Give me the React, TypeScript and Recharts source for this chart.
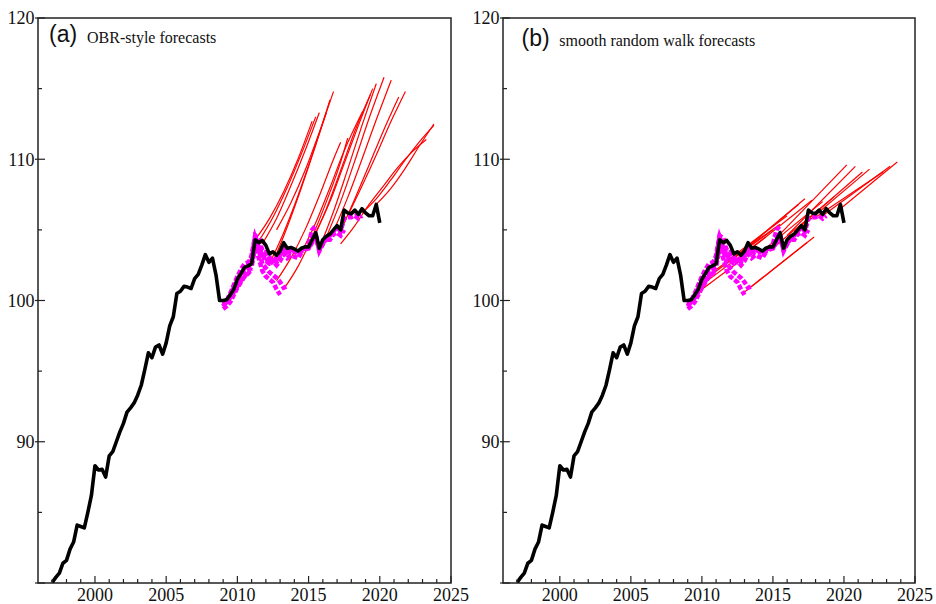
import React from 'react';
import { LineChart, Line, XAxis, YAxis, ReferenceArea } from 'recharts';

// ---------- data ----------
const ACTUAL_START = 1997; // quarterly observations
const actualValues = [
  80.05, 80.4, 80.7, 81.4,
  81.6, 82.4, 82.9, 84.1,
  84.0, 83.9, 85.0, 86.2,
  88.3, 88.0, 88.05, 87.5,
  89.0, 89.3, 90.0, 90.7,
  91.3, 92.1, 92.4, 92.75,
  93.3, 94.0, 95.1, 96.3,
  95.95, 96.7, 96.85, 96.2,
  97.0, 98.2, 98.85, 100.5,
  100.65, 101.0, 100.95, 100.85,
  101.55, 101.85, 102.5, 103.25,
  102.7, 103.0, 101.8, 100.0,
  100.0, 100.05, 100.4, 100.8,
  101.5, 101.9, 102.35, 102.45,
  102.6, 104.3, 104.1, 104.25,
  103.9, 103.3, 103.45, 103.2,
  103.5, 104.1, 103.7, 103.75,
  103.65, 103.5, 103.7, 103.8,
  103.8, 104.3, 104.8, 103.7,
  104.3, 104.55, 104.7, 105.0,
  105.3, 105.0, 106.4, 106.2,
  106.15, 106.4, 106.1, 106.5,
  106.2, 106.0, 106.0, 106.8,
  105.5,
];

// data vintages (quarterly, start year + values)
const vintageStarts = [2009.0, 2009.0, 2009.0, 2009.0, 2009.0, 2010.0, 2011.0, 2012.0, 2013.0, 2014.5];
const vintageValues = [
  [99.4, 99.6, 99.9, 100.4, 100.9, 101.3, 101.7, 101.9, 102.2],
  [99.6, 99.9, 100.4, 101.0, 101.6, 102.0, 102.3, 102.5, 103.2, 104.6, 104.4, 104.0],
  [99.6, 100.0, 100.5, 101.1, 101.7, 102.2, 102.6, 102.7, 103.0, 104.5, 103.8, 103.2, 102.8, 102.6, 102.7],
  [99.7, 99.9, 100.2, 100.6, 101.0, 101.4, 101.7, 102.0, 102.4, 103.8, 103.0, 102.1, 101.7, 101.5, 101.3, 100.8, 100.4],
  [99.8, 100.0, 100.4, 100.9, 101.4, 101.8, 102.1, 102.3, 102.7, 104.2, 103.6, 102.6, 102.3, 102.0, 101.8, 101.6, 101.3, 100.9, 101.0],
  [101.5, 101.9, 102.2, 102.4, 102.6, 104.4, 104.0, 103.3, 103.0, 102.6, 102.8, 102.5, 102.8, 103.3, 103.0, 103.2, 103.1, 103.0, 103.4],
  [102.8, 104.5, 104.2, 103.6, 103.3, 102.9, 102.9, 102.7, 103.2, 103.6, 103.4, 103.5, 103.5, 103.3, 103.5, 103.7, 104.0, 105.0, 105.3],
  [103.6, 103.0, 103.1, 102.9, 103.3, 103.8, 103.5, 103.6, 103.5, 103.4, 103.6, 103.7, 103.8, 104.4, 104.5, 103.6, 104.0, 104.6, 104.5],
  [103.4, 103.9, 103.5, 103.6, 103.5, 103.3, 103.5, 103.6, 103.7, 104.1, 104.7, 103.6, 104.1, 104.3, 104.3, 104.7, 104.8, 104.6, 105.0],
  [103.6, 103.7, 103.7, 104.2, 104.6, 103.5, 104.0, 104.4, 104.6, 104.9, 105.2, 104.9, 105.8, 105.9, 105.9, 106.0, 105.8, 106.0],
];

// OBR-style forecast paths [year, value]
const obrForecasts: [number, number][][] = [
  [[2011.25, 104.3], [2012.25, 105.8], [2013.25, 107.7], [2014.25, 110.0], [2015.25, 112.7]],
  [[2011.5, 104.2], [2012.5, 105.9], [2013.5, 108.0], [2014.5, 110.4], [2015.5, 113.0]],
  [[2011.75, 104.0], [2012.75, 105.8], [2013.75, 108.1], [2014.75, 110.6], [2015.75, 113.3]],
  [[2012.25, 102.6], [2013.25, 104.8], [2014.25, 107.4], [2015.25, 110.3], [2016.25, 113.3]],
  [[2012.5, 102.7], [2013.5, 105.2], [2014.5, 108.0], [2015.5, 111.0], [2016.5, 114.2]],
  [[2012.75, 105.0], [2013.75, 106.9], [2014.75, 109.2], [2015.75, 111.9], [2016.75, 114.8]],
  [[2012.75, 101.4], [2013.75, 103.0], [2014.75, 105.0], [2015.75, 107.4], [2016.75, 110.0], [2017.25, 111.2]],
  [[2013.25, 100.8], [2014.25, 102.4], [2015.25, 104.5], [2016.25, 107.0], [2017.25, 109.8], [2017.75, 111.5]],
  [[2014.5, 103.4], [2015.5, 105.5], [2016.5, 108.0], [2017.5, 110.6], [2018.8, 113.4]],
  [[2015.25, 104.2], [2016.25, 106.5], [2017.25, 109.2], [2018.25, 112.0], [2019.35, 114.6]],
  [[2015.5, 104.8], [2016.5, 107.0], [2017.5, 109.7], [2018.5, 112.4], [2019.5, 115.0]],
  [[2015.75, 103.7], [2016.75, 106.3], [2017.75, 109.3], [2018.75, 112.4], [2019.75, 115.35]],
  [[2016.25, 104.5], [2017.25, 107.0], [2018.25, 109.9], [2019.25, 112.9], [2020.3, 115.8]],
  [[2016.75, 104.9], [2017.75, 107.3], [2018.75, 110.0], [2019.75, 112.8], [2020.8, 115.6]],
  [[2017.25, 104.9], [2018.25, 107.2], [2019.25, 109.6], [2020.25, 112.0], [2021.33, 114.4]],
  [[2017.75, 106.0], [2018.75, 108.1], [2019.75, 110.3], [2020.75, 112.6], [2021.8, 114.8]],
  [[2017.25, 104.0], [2018.25, 105.3], [2019.25, 106.8], [2020.25, 108.1], [2021.25, 109.4], [2022.25, 110.5], [2023.27, 111.4]],
  [[2018.75, 106.2], [2019.75, 107.2], [2020.75, 108.5], [2021.75, 109.9], [2022.75, 111.2], [2023.8, 112.4]],
  [[2019.75, 106.8], [2020.75, 107.9], [2021.75, 109.3], [2022.75, 110.9], [2023.8, 112.5]],
];

// smooth random walk forecast paths [year, value]
const srwForecasts: [number, number][][] = [
  [[2009.75, 100.6], [2013.75, 103.6]],
  [[2010.25, 101.3], [2014.5, 104.5]],
  [[2010.75, 101.9], [2015.0, 105.0]],
  [[2011.0, 102.2], [2015.5, 105.4]],
  [[2011.75, 102.8], [2016.0, 106.0]],
  [[2012.25, 103.0], [2016.8, 106.8]],
  [[2012.75, 103.4], [2017.25, 107.2]],
  [[2013.0, 100.6], [2017.4, 104.1]],
  [[2013.25, 103.5], [2017.75, 107.1]],
  [[2013.5, 101.0], [2017.9, 104.5]],
  [[2014.0, 103.3], [2018.5, 107.0]],
  [[2014.75, 103.5], [2019.25, 107.3]],
  [[2015.5, 104.7], [2020.2, 109.6]],
  [[2016.0, 104.6], [2020.8, 109.5]],
  [[2016.5, 104.9], [2021.3, 109.1]],
  [[2017.0, 105.2], [2021.8, 109.3]],
  [[2018.0, 105.9], [2022.75, 109.1]],
  [[2018.5, 106.0], [2023.25, 109.5]],
  [[2019.75, 106.5], [2023.75, 109.8]],
];

const xTicks = [1997, 1998, 1999, 2000, 2001, 2002, 2003, 2004, 2005, 2006, 2007, 2008, 2009, 2010,
  2011, 2012, 2013, 2014, 2015, 2016, 2017, 2018, 2019, 2020, 2021, 2022, 2023, 2024, 2025];
const xLabels = [2000, 2005, 2010, 2015, 2020, 2025];
const yTicks = [80, 85, 90, 95, 100, 105, 110, 115, 120];
const yLabels = [90, 100, 110, 120];

// ---------- derived ----------
const actual = actualValues.map((v, i) => ({ t: ACTUAL_START + i * 0.25, v }));
const vintages = vintageValues.map((vals, k) => vals.map((v, i) => ({ t: vintageStarts[k] + i * 0.25, v })));
const toPts = (f: [number, number][]) => f.map(([t, v]) => ({ t, v }));

const AXIS = '#222';
const SERIF = '"Liberation Serif", "Times New Roman", serif';
const SANS = '"Liberation Sans", Arial, sans-serif';

const XTick = (props: any) => {
  const { x, y, payload } = props;
  const v = payload.value;
  const major = xLabels.includes(v);
  return (
    <g>
      <line x1={x} x2={x} y1={y} y2={y - (major ? 7 : 4)} stroke={AXIS} strokeWidth={1.2} />
      {major && (
        <text x={x} y={y + 17.5} textAnchor="middle" fontFamily={SERIF} fontSize={18} fill="#111">
          {v}
        </text>
      )}
    </g>
  );
};

const YTick = (props: any) => {
  const { x, y, payload } = props;
  const v = payload.value;
  const major = v % 10 === 0;
  return (
    <g>
      <line x1={major ? x - 3 : x} x2={x + (major ? 7 : 4)} y1={y} y2={y} stroke={AXIS} strokeWidth={1.2} />
      {yLabels.includes(v) && (
        <text x={x - 3.5} y={y + 6.3} textAnchor="end" fontFamily={SERIF} fontSize={18} fill="#111">
          {v}
        </text>
      )}
    </g>
  );
};

function Panel({ forecasts, curved, yAxisWidth, marginRight }: { forecasts: [number, number][][]; curved: boolean; yAxisWidth: number; marginRight: number }) {
  return (
    <LineChart width={470} height={604} margin={{ top: 18, right: marginRight, bottom: 0, left: 0 }}>
      <XAxis
        dataKey="t"
        type="number"
        domain={[1996, 2025]}
        allowDataOverflow
        ticks={xTicks}
        interval={0}
        tick={<XTick />}
        tickSize={0}
        tickMargin={0}
        tickLine={false}
        axisLine={false}
        height={21}
      />
      <YAxis
        type="number"
        domain={[80, 120]}
        allowDataOverflow
        ticks={yTicks}
        interval={0}
        tick={<YTick />}
        tickSize={0}
        tickMargin={0}
        tickLine={false}
        axisLine={false}
        width={yAxisWidth}
      />
      <ReferenceArea x1={1996} x2={2025} y1={80} y2={120} fill="none" stroke={AXIS} strokeWidth={1.5} />
      {forecasts.map((f, i) => (
        <Line
          key={'f' + i}
          data={toPts(f)}
          dataKey="v"
          type={curved ? 'monotone' : 'linear'}
          stroke="#ff0000"
          strokeWidth={1.2}
          dot={false}
          isAnimationActive={false}
          legendType="none"
        />
      ))}
      {vintages.map((d, i) => (
        <Line
          key={'m' + i}
          data={d}
          dataKey="v"
          type="linear"
          stroke="#ff00ff"
          strokeWidth={4.5}
          strokeDasharray="5 2"
          dot={false}
          isAnimationActive={false}
          legendType="none"
        />
      ))}
      <Line
        data={actual}
        dataKey="v"
        type="linear"
        stroke="#000"
        strokeWidth={3.6}
        strokeLinejoin="round"
        dot={false}
        isAnimationActive={false}
        legendType="none"
      />
    </LineChart>
  );
}

export default function App() {
  return (
    <div style={{ position: 'absolute', left: 0, top: 0, width: 936, height: 604, background: '#fff' }}>
      <div style={{ position: 'absolute', left: 0, top: 0 }}>
        <Panel forecasts={obrForecasts} curved yAxisWidth={38} marginRight={19} />
      </div>
      <div style={{ position: 'absolute', left: 466, top: 0 }}>
        <Panel forecasts={srwForecasts} curved={false} yAxisWidth={37} marginRight={21} />
      </div>
      <svg width={936} height={604} style={{ position: 'absolute', left: 0, top: 0, pointerEvents: 'none' }}>
        <text x={49} y={42} fontFamily={SANS} fontSize={23} fill="#111">(a)</text>
        <text x={87} y={42.5} fontFamily={SERIF} fontSize={16} fill="#111">OBR-style forecasts</text>
        <text x={521.5} y={45.5} fontFamily={SANS} fontSize={23} fill="#111">(b)</text>
        <text x={559.3} y={45.5} fontFamily={SERIF} fontSize={16} fill="#111">smooth random walk forecasts</text>
      </svg>
    </div>
  );
}
